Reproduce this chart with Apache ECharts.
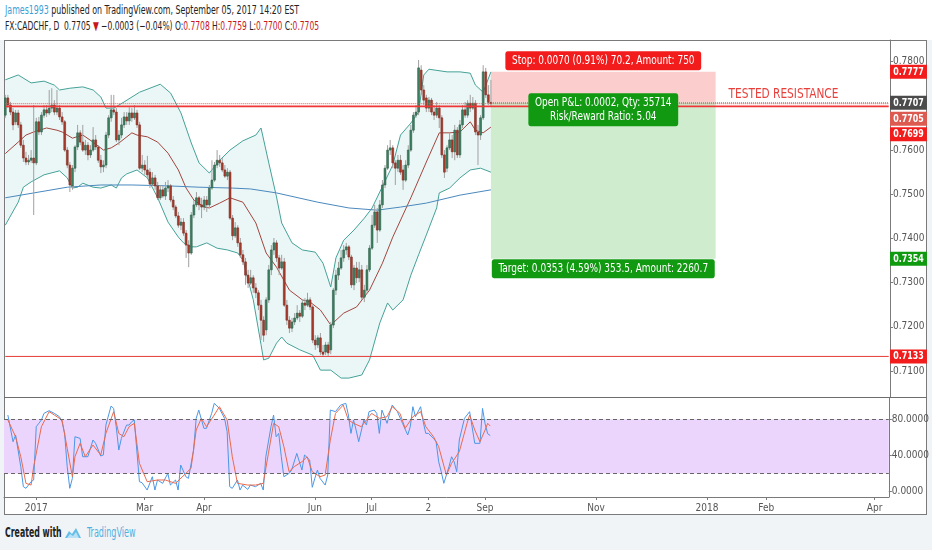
<!DOCTYPE html>
<html>
<head>
<meta charset="utf-8">
<title>FX:CADCHF, D</title>
<script src="https://cdn.jsdelivr.net/npm/echarts@6/dist/echarts.min.js"></script>
<style>
html, body { margin: 0; padding: 0; background: #f1f4f7; }
#wrap { position: relative; width: 932px; height: 550px; overflow: hidden; background: #f1f4f7;
  font-family: 'DejaVu Sans Condensed', 'Liberation Sans', sans-serif; }
#top { position: absolute; left: 0; top: 0; width: 932px; height: 40px; background: #fff; }
#frame { position: absolute; left: 4px; top: 40px; width: 921px; height: 473px; border: 1px solid #7a7a7a; background: #fff; }
#sep { position: absolute; left: 4px; top: 397px; width: 923px; height: 1px; background: #6e6e6e; z-index: 5; }
#main { position: absolute; left: 0; top: 0; width: 932px; height: 550px; }
.txt { position: absolute; white-space: nowrap; transform-origin: 0 50%; color: #222; }
.l1 { left: 5px; top: 3px; font-size: 12px; transform: scaleX(0.73); }
.l2 { left: 5px; top: 19px; font-size: 12px; transform: scaleX(0.70); }
.red { color: #c8171b; }
.blue { color: #3aa0d8; }
.f1 { left: 5px; top: 524px; font-size: 14px; font-weight: bold; transform: scaleX(0.62); }
.f2 { left: 87px; top: 524px; font-size: 14px; color: #4fb0e2; transform: scaleX(0.64); }
#logo { position: absolute; left: 64px; top: 527px; }
</style>
</head>
<body>
<div id="wrap">
  <div id="top"></div>
  <div id="frame"></div>
  <div class="txt l1"><span class="blue">James1993</span> published on TradingView.com, September 05, 2017 14:20 EST</div>
  <div class="txt l2">FX:CADCHF, D&nbsp; 0.7705 <span class="red">&#9660;</span> &minus;0.0003 (&minus;0.04%) O:<span class="red">0.7708</span> H:<span class="red">0.7759</span> L:<span class="red">0.7700</span> C:<span class="red">0.7705</span></div>
  <div class="txt f1">Created with</div>
  <svg id="logo" width="18" height="12" viewBox="0 0 18 12"><path d="M1 11 L5 4 L8 7 L12 1 L17 11 Z" fill="#62bde8"/><path d="M3 11 L6 7 L9 9 L12 5 L15 11 Z" fill="#ffffff" opacity="0.55"/></svg>
  <div class="txt f2">TradingView</div>
  <div id="main"></div>
  <div id="sep"></div>
</div>
<script>
// daily candles, 15 Dec 2016 .. 5 Sep 2017
var opens = [
  0.7679,0.7718,0.7702,0.7686,0.7664,0.7684,0.7657,0.7611,0.7582,0.7573,
  0.7577,0.7582,0.7571,0.7664,0.7641,0.7679,0.7691,0.7684,0.7695,0.7702,
  0.7686,0.7695,0.7675,0.7664,0.7600,0.7566,0.7519,0.7559,0.7607,0.7639,
  0.7618,0.7600,0.7611,0.7589,0.7600,0.7623,0.7607,0.7577,0.7562,0.7566,
  0.7634,0.7673,0.7691,0.7686,0.7623,0.7634,0.7657,0.7675,0.7666,0.7684,
  0.7673,0.7684,0.7657,0.7559,0.7566,0.7555,0.7550,0.7523,0.7537,0.7519,
  0.7492,0.7510,0.7496,0.7514,0.7519,0.7487,0.7471,0.7451,0.7430,0.7437,
  0.7412,0.7385,0.7367,0.7453,0.7476,0.7492,0.7476,0.7471,0.7487,0.7476,
  0.7514,0.7532,0.7566,0.7577,0.7571,0.7555,0.7541,0.7550,0.7446,0.7406,
  0.7424,0.7390,0.7363,0.7347,0.7317,0.7299,0.7311,0.7288,0.7277,0.7249,
  0.7215,0.7193,0.7261,0.7329,0.7374,0.7390,0.7356,0.7333,0.7347,0.7249,
  0.7215,0.7197,0.7211,0.7220,0.7231,0.7224,0.7254,0.7249,0.7261,0.7245,
  0.7170,0.7159,0.7175,0.7143,0.7143,0.7159,0.7148,0.7204,0.7283,0.7317,
  0.7333,0.7356,0.7374,0.7381,0.7358,0.7295,0.7333,0.7311,0.7329,0.7267,
  0.7283,0.7329,0.7378,0.7430,0.7460,0.7419,0.7476,0.7521,0.7559,0.7600,
  0.7605,0.7571,0.7559,0.7577,0.7555,0.7532,0.7566,0.7600,0.7645,0.7679,
  0.7686,0.7781,0.7736,0.7718,0.7695,0.7713,0.7686,0.7679,0.7695,0.7673,
  0.7589,0.7559,0.7605,0.7623,0.7596,0.7645,0.7589,0.7657,0.7691,0.7679,
  0.7706,0.7695,0.7706,0.7641,0.7634,0.7673,0.7777,0.7725,0.7708
];
var highs = [
  0.7725,0.7725,0.7709,0.7695,0.7691,0.7691,0.7664,0.7623,0.7596,0.7589,
  0.7600,0.7702,0.7673,0.7675,0.7686,0.7702,0.7702,0.7736,0.7740,0.7713,
  0.7736,0.7702,0.7686,0.7668,0.7607,0.7573,0.7566,0.7611,0.7657,0.7645,
  0.7657,0.7623,0.7618,0.7611,0.7652,0.7634,0.7611,0.7589,0.7577,0.7641,
  0.7679,0.7725,0.7725,0.7695,0.7645,0.7673,0.7686,0.7686,0.7697,0.7695,
  0.7702,0.7691,0.7664,0.7589,0.7577,0.7587,0.7559,0.7550,0.7544,0.7528,
  0.7521,0.7519,0.7528,0.7532,0.7523,0.7496,0.7476,0.7460,0.7446,0.7446,
  0.7419,0.7396,0.7460,0.7487,0.7505,0.7496,0.7492,0.7496,0.7496,0.7521,
  0.7577,0.7573,0.7600,0.7589,0.7582,0.7566,0.7559,0.7555,0.7453,0.7437,
  0.7430,0.7401,0.7374,0.7356,0.7329,0.7329,0.7317,0.7299,0.7283,0.7261,
  0.7224,0.7267,0.7340,0.7385,0.7401,0.7396,0.7363,0.7363,0.7356,0.7261,
  0.7224,0.7220,0.7231,0.7249,0.7238,0.7261,0.7265,0.7277,0.7267,0.7249,
  0.7181,0.7181,0.7186,0.7159,0.7166,0.7166,0.7211,0.7288,0.7329,0.7347,
  0.7374,0.7385,0.7390,0.7385,0.7363,0.7340,0.7347,0.7347,0.7340,0.7295,
  0.7340,0.7385,0.7453,0.7476,0.7469,0.7487,0.7532,0.7566,0.7611,0.7623,
  0.7611,0.7577,0.7589,0.7589,0.7566,0.7577,0.7611,0.7657,0.7686,0.7702,
  0.7804,0.7792,0.7747,0.7725,0.7720,0.7718,0.7702,0.7709,0.7702,0.7679,
  0.7600,0.7611,0.7641,0.7634,0.7657,0.7652,0.7668,0.7702,0.7709,0.7713,
  0.7725,0.7720,0.7713,0.7657,0.7679,0.7792,0.7786,0.7747,0.7759
];
var lows = [
  0.7673,0.7695,0.7679,0.7645,0.7657,0.7650,0.7605,0.7573,0.7566,0.7566,
  0.7571,0.7453,0.7566,0.7634,0.7634,0.7673,0.7675,0.7679,0.7686,0.7679,
  0.7679,0.7668,0.7657,0.7596,0.7559,0.7505,0.7510,0.7550,0.7600,0.7611,
  0.7596,0.7589,0.7577,0.7582,0.7596,0.7600,0.7571,0.7548,0.7550,0.7559,
  0.7627,0.7664,0.7679,0.7618,0.7611,0.7627,0.7650,0.7657,0.7657,0.7664,
  0.7668,0.7650,0.7555,0.7550,0.7544,0.7537,0.7514,0.7519,0.7510,0.7487,
  0.7487,0.7492,0.7487,0.7505,0.7482,0.7464,0.7446,0.7424,0.7419,0.7406,
  0.7356,0.7335,0.7363,0.7446,0.7471,0.7464,0.7446,0.7464,0.7460,0.7471,
  0.7510,0.7528,0.7559,0.7562,0.7550,0.7537,0.7532,0.7442,0.7396,0.7401,
  0.7381,0.7356,0.7340,0.7295,0.7288,0.7295,0.7277,0.7265,0.7238,0.7170,
  0.7166,0.7181,0.7254,0.7317,0.7363,0.7347,0.7317,0.7329,0.7245,0.7204,
  0.7186,0.7188,0.7204,0.7215,0.7211,0.7220,0.7238,0.7245,0.7238,0.7163,
  0.7148,0.7152,0.7136,0.7132,0.7136,0.7134,0.7138,0.7197,0.7272,0.7306,
  0.7329,0.7347,0.7363,0.7351,0.7288,0.7283,0.7299,0.7301,0.7261,0.7256,
  0.7277,0.7324,0.7374,0.7424,0.7390,0.7415,0.7469,0.7514,0.7555,0.7589,
  0.7559,0.7521,0.7550,0.7544,0.7510,0.7528,0.7559,0.7596,0.7639,0.7673,
  0.7679,0.7725,0.7702,0.7686,0.7686,0.7679,0.7668,0.7673,0.7650,0.7582,
  0.7537,0.7550,0.7600,0.7582,0.7577,0.7582,0.7582,0.7650,0.7673,0.7673,
  0.7686,0.7691,0.7634,0.7566,0.7623,0.7668,0.7718,0.7702,0.7700
];
var closes = [
  0.7718,0.7702,0.7686,0.7657,0.7684,0.7657,0.7611,0.7582,0.7573,0.7577,
  0.7582,0.7571,0.7664,0.7641,0.7679,0.7691,0.7684,0.7695,0.7702,0.7686,
  0.7695,0.7675,0.7664,0.7600,0.7566,0.7521,0.7559,0.7607,0.7639,0.7618,
  0.7600,0.7611,0.7589,0.7600,0.7623,0.7607,0.7577,0.7562,0.7566,0.7634,
  0.7673,0.7691,0.7686,0.7623,0.7634,0.7657,0.7675,0.7666,0.7684,0.7673,
  0.7684,0.7657,0.7559,0.7566,0.7555,0.7544,0.7523,0.7537,0.7519,0.7492,
  0.7510,0.7496,0.7514,0.7519,0.7487,0.7471,0.7451,0.7430,0.7437,0.7412,
  0.7385,0.7367,0.7453,0.7476,0.7492,0.7476,0.7471,0.7487,0.7476,0.7514,
  0.7532,0.7566,0.7577,0.7571,0.7555,0.7541,0.7550,0.7446,0.7406,0.7424,
  0.7390,0.7363,0.7347,0.7317,0.7299,0.7311,0.7288,0.7277,0.7249,0.7215,
  0.7181,0.7261,0.7329,0.7374,0.7390,0.7356,0.7333,0.7347,0.7249,0.7215,
  0.7197,0.7211,0.7220,0.7231,0.7224,0.7254,0.7249,0.7261,0.7245,0.7170,
  0.7159,0.7175,0.7143,0.7138,0.7159,0.7141,0.7204,0.7283,0.7317,0.7333,
  0.7356,0.7374,0.7381,0.7358,0.7295,0.7333,0.7311,0.7329,0.7267,0.7283,
  0.7329,0.7378,0.7430,0.7460,0.7419,0.7476,0.7521,0.7559,0.7600,0.7605,
  0.7571,0.7559,0.7577,0.7550,0.7532,0.7566,0.7600,0.7645,0.7679,0.7686,
  0.7786,0.7736,0.7713,0.7695,0.7713,0.7686,0.7679,0.7695,0.7673,0.7589,
  0.7550,0.7605,0.7623,0.7596,0.7645,0.7589,0.7657,0.7691,0.7679,0.7706,
  0.7695,0.7706,0.7641,0.7634,0.7673,0.7777,0.7725,0.7708,0.7705
];

// Bollinger bands (20, 2) and the long moving average, read at bar indices
var bbUpIdx = [0,5,10,15,19,21,25,30,34,37,39,42,46,52,60,64,68,72,75,79,83,87,92,97,99,102,105,107,111,115,120,123,126,128,131,135,139,142,150,153,157,160,162,164,171,176,180,182,185,188];
var bbUp = [0.7759,0.7770,0.7752,0.7756,0.7747,0.7736,0.7740,0.7743,0.7736,0.7720,0.7695,0.7695,0.7709,0.7731,0.7749,0.7729,0.7684,0.7616,0.7571,0.7548,0.7577,0.7600,0.7621,0.7634,0.7650,0.7571,0.7494,0.7435,0.7390,0.7374,0.7369,0.7344,0.7290,0.7356,0.7396,0.7419,0.7446,0.7469,0.7566,0.7634,0.7661,0.7686,0.7770,0.7783,0.7777,0.7777,0.7774,0.7747,0.7731,0.7777];
var bbLoIdx = [0,5,7,10,15,21,24,26,28,30,34,37,41,43,45,47,51,55,59,63,67,69,72,74,78,82,86,90,92,96,99,100,102,105,107,109,114,119,122,126,130,133,138,141,145,148,150,154,157,160,163,167,168,172,176,180,184,188];
var bbLo = [0.7430,0.7482,0.7516,0.7528,0.7544,0.7553,0.7537,0.7514,0.7516,0.7525,0.7516,0.7514,0.7521,0.7514,0.7537,0.7546,0.7555,0.7537,0.7492,0.7437,0.7403,0.7390,0.7381,0.7381,0.7390,0.7378,0.7374,0.7367,0.7351,0.7261,0.7160,0.7125,0.7129,0.7163,0.7177,0.7163,0.7148,0.7136,0.7102,0.7102,0.7084,0.7084,0.7091,0.7125,0.7209,0.7254,0.7238,0.7261,0.7317,0.7363,0.7408,0.7469,0.7503,0.7514,0.7537,0.7555,0.7559,0.7550];
var bbMidIdx = [0,5,8,11,16,20,22,26,30,34,38,41,44,49,51,55,59,63,67,70,73,77,79,83,87,92,97,101,105,110,115,118,122,126,131,136,141,146,150,157,163,168,172,176,180,182,185,188];
var bbMid = [0.7592,0.7618,0.7634,0.7641,0.7650,0.7645,0.7641,0.7627,0.7634,0.7618,0.7600,0.7605,0.7616,0.7639,0.7634,0.7630,0.7618,0.7593,0.7555,0.7514,0.7487,0.7471,0.7469,0.7480,0.7492,0.7482,0.7435,0.7367,0.7335,0.7283,0.7261,0.7256,0.7238,0.7204,0.7231,0.7245,0.7283,0.7344,0.7403,0.7492,0.7573,0.7639,0.7639,0.7641,0.7664,0.7645,0.7639,0.7652];
var maIdx = [0,11,24,37,49,63,75,88,95,105,121,133,144,153,163,176,188];
var maLong = [0.7492,0.7503,0.7516,0.7521,0.7521,0.7519,0.7516,0.7514,0.7512,0.7503,0.7482,0.7469,0.7464,0.7471,0.7480,0.7498,0.7510];

// stochastic %K / %D
var kIdx = [1,3,4,6,7,8,10,11,12,13,14,15,17,19,21,22,23,24,25,26,27,29,30,32,34,35,37,38,39,41,42,43,44,45,47,48,49,50,52,53,55,57,58,59,61,63,64,66,67,68,70,71,73,74,75,77,78,80,81,83,85,86,87,88,90,91,92,94,95,97,99,100,101,103,104,105,106,107,108,110,111,113,115,116,118,119,120,121,122,124,125,126,128,130,132,133,134,135,136,137,139,140,141,143,144,145,146,148,149,150,152,154,156,157,158,159,161,162,163,164,166,167,168,169,170,172,173,174,175,176,178,180,182,184,185,186,187,188];
var kVal = [84.7,55.2,62.6,27.6,5.5,3.7,11,12.9,71.8,75.5,79.2,86.5,89.5,86.5,82.8,77.3,64.4,27.6,3.7,14.7,60.7,58.9,38.6,38.6,57.1,53.4,39.4,40.5,73.6,94.6,92,71.8,46,58.9,73.6,73.6,77.3,79.2,11,9.9,1.8,16.5,1.8,12.9,9.2,20.2,7.3,12.9,1.8,29.4,16.5,14.7,46,81,90.2,70,70,86.5,97.6,92,81,66.3,5.5,3.7,12.9,1.8,7.3,2.5,7.3,5.5,9.2,1.8,38.6,71.8,84.7,60.7,64.4,38.6,16.5,20.2,23.9,42.3,23.9,40.5,35,4.8,14.7,23.9,14.7,7.3,18.4,90.2,88.4,95.7,97.6,84.7,64.4,79.2,68.1,55.2,79.2,73.6,88.4,90.2,86.5,64.4,90.2,75.5,86.5,95.7,88.4,75.5,62.6,71.8,93.9,82.8,93.9,77.3,64.4,64.4,58.9,55.2,33.1,22.1,9.2,27.6,38.6,33.1,22.1,57.1,81,88.4,53.4,53.4,92,75,64,62];
var dIdx = [1,4,6,8,10,11,13,14,17,19,22,24,26,27,29,31,34,37,39,42,44,46,48,50,52,55,59,62,66,70,72,74,76,78,81,83,86,88,90,94,97,100,102,104,106,108,110,112,115,117,119,122,124,126,128,131,133,135,138,140,142,145,148,150,153,155,158,161,163,166,168,171,173,176,179,180,182,184,186,187,188];
var dVal = [79.2,60.7,38.6,9.2,7.3,27.6,57.1,71.8,88.4,84.7,79.2,47.9,16.5,38.6,53.4,38.6,51.5,40.5,64.4,88.4,64.4,60.7,71.8,75.5,31.3,11,12.9,12.9,9.2,20.2,25.8,68.1,81,71.8,84.7,93.9,79.2,38.6,9.2,7.3,7.3,9.2,42.3,75.5,71.8,49.7,22.1,27.6,33.1,38.6,22.1,16.5,18.4,57.1,86.5,95.7,79.2,75.5,71.8,79.2,86.5,81,82.8,93.9,86.5,70,82.8,88.4,71.8,60.7,49.7,18.4,31.3,44.2,75.5,84.7,68.1,55.2,68.1,75.5,72.5];

// levels of the short position and the drawn lines
var entryPrice = 0.7707, stopPrice = 0.7777, targetPrice = 0.7354;
var lastPrice = 0.7705, resistance = 0.7699, support = 0.7133;
var boxStart = 188, boxEnd = 275;

var priceTicks = [0.71, 0.72, 0.73, 0.74, 0.75, 0.76, 0.78];
var stochTicks = [0, 40, 80];
var timeLabels = {
  '2017-01-02': '2017', '2017-03-01': 'Mar', '2017-04-03': 'Apr', '2017-06-01': 'Jun',
  '2017-07-03': 'Jul', '2017-08-02': '2', '2017-09-01': 'Sep', '2017-11-01': 'Nov',
  '2018-01-01': '2018', '2018-02-01': 'Feb', '2018-04-02': 'Apr'
};

// trading days on the time scale, including the empty future part
var dates = [];
var d = new Date(Date.UTC(2016, 11, 15));
while (dates.length < 343) {
  var wd = d.getUTCDay();
  if (wd !== 0 && wd !== 6) dates.push(d.toISOString().slice(0, 10));
  d.setUTCDate(d.getUTCDate() + 1);
}
var lastIdx = dates.length - 1;

var FONT = "'DejaVu Sans Condensed', 'Liberation Sans', sans-serif";
function pairs(idx, vals) { return idx.map(function (i, k) { return [i, vals[k]]; }); }
function level(v, from) { return [[from || 0, v], [lastIdx, v]]; }

var candles = opens.map(function (o, i) { return [i, o, highs[i], lows[i], closes[i]]; });

function renderCandle(params, api) {
  var i = api.value(0), o = api.value(1), h = api.value(2), l = api.value(3), c = api.value(4);
  var pO = api.coord([i, o]), pC = api.coord([i, c]);
  var pH = api.coord([i, h]), pL = api.coord([i, l]);
  var w = api.size([1, 0])[0] * 0.72;
  var up = c >= o;
  var top = Math.min(pO[1], pC[1]), bot = Math.max(pO[1], pC[1]);
  return {
    type: 'group',
    children: [
      { type: 'line', shape: { x1: pH[0], y1: pH[1], x2: pL[0], y2: pL[1] }, style: { stroke: '#a0a0a0', lineWidth: 1 } },
      { type: 'rect', shape: { x: pO[0] - w / 2, y: top, width: w, height: Math.max(bot - top, 1) },
        style: { fill: up ? '#3e8060' : '#a83b2c', stroke: up ? '#2c6049' : '#7f2b21', lineWidth: 0.6 } }
    ]
  };
}

function renderBand(params, api) {
  var pts = [];
  bbUpIdx.forEach(function (i, k) { pts.push(api.coord([i, bbUp[k]])); });
  for (var k = bbLoIdx.length - 1; k >= 0; k--) pts.push(api.coord([bbLoIdx[k], bbLo[k]]));
  return { type: 'polygon', shape: { points: pts }, style: { fill: 'rgba(38,166,154,0.09)' } };
}

function flatLine(name, data, color, width, type, z) {
  return { name: name, type: 'line', xAxisIndex: 0, yAxisIndex: 0, data: data, showSymbol: false, silent: true,
    lineStyle: { color: color, width: width, type: type }, z: z };
}

var chart = echarts.init(document.getElementById('main'));

var option = {
  animation: false,
  grid: [
    { left: 4, top: 40, width: 886, height: 357 },
    { left: 4, top: 398, width: 886, height: 99 }
  ],
  xAxis: [
    { type: 'category', gridIndex: 0, data: dates, boundaryGap: true, show: false },
    { type: 'category', gridIndex: 1, data: dates, boundaryGap: true,
      axisLine: { show: true, onZero: false, lineStyle: { color: '#7a7a7a' } },
      splitLine: { show: false },
      axisTick: { show: true, length: 3, alignWithLabel: true, lineStyle: { color: '#7a7a7a' },
        interval: function (i, v) { return !!timeLabels[v]; } },
      axisLabel: { color: '#555', fontSize: 10, fontFamily: FONT, margin: 6,
        interval: function (i, v) { return !!timeLabels[v]; },
        formatter: function (v) { return timeLabels[v] || ''; } } }
  ],
  yAxis: [
    { type: 'value', gridIndex: 0, position: 'right', min: 0.70412, max: 0.78491,
      splitLine: { show: false },
      axisLine: { show: true, lineStyle: { color: '#7a7a7a' } },
      axisTick: { show: true, length: 3, customValues: priceTicks, lineStyle: { color: '#7a7a7a' } },
      axisLabel: { customValues: priceTicks, color: '#555', fontSize: 10, fontFamily: FONT, margin: 3,
        formatter: function (v) { return v.toFixed(4); } } },
    { type: 'value', gridIndex: 1, position: 'right', min: -5.9, max: 103.5,
      splitLine: { show: false },
      axisLine: { show: true, lineStyle: { color: '#7a7a7a' } },
      axisTick: { show: true, length: 3, customValues: stochTicks, lineStyle: { color: '#7a7a7a' } },
      axisLabel: { customValues: stochTicks, color: '#555', fontSize: 10, fontFamily: FONT, margin: 3,
        formatter: function (v) { return v.toFixed(4); } } }
  ],
  series: [
    { name: 'BB fill', type: 'custom', xAxisIndex: 0, yAxisIndex: 0, data: [[0, bbUp[0]]],
      renderItem: renderBand, clip: true, silent: true, z: 1 },
    { name: 'Position', type: 'line', xAxisIndex: 0, yAxisIndex: 0, data: [], z: 1,
      markArea: { silent: true, data: [
        [{ coord: [boxStart, stopPrice], itemStyle: { color: '#fbcdcd' } }, { coord: [boxEnd, entryPrice] }],
        [{ coord: [boxStart, entryPrice], itemStyle: { color: '#cfeccf' } }, { coord: [boxEnd, targetPrice] }]
      ] } },
    flatLine('BB upper', pairs(bbUpIdx, bbUp), '#44a198', 1, 'solid', 2),
    flatLine('BB lower', pairs(bbLoIdx, bbLo), '#44a198', 1, 'solid', 2),
    flatLine('BB basis', pairs(bbMidIdx, bbMid), '#a3443e', 1, 'solid', 2),
    flatLine('MA', pairs(maIdx, maLong), '#4a88bd', 1, 'solid', 2),
    { name: 'CADCHF', type: 'custom', xAxisIndex: 0, yAxisIndex: 0, data: candles,
      encode: { x: 0, y: [1, 2, 3, 4] }, renderItem: renderCandle, clip: true, z: 3 },
    flatLine('Support', level(support), '#e53935', 1, 'solid', 4),
    flatLine('Resistance', level(resistance), '#ef3535', 1.6, 'solid', 4),
    flatLine('Last', level(lastPrice), '#e0574f', 1, [1, 1], 4),
    flatLine('Entry', level(entryPrice, boxStart), '#777777', 1, [1, 1], 4),
    { name: '%K', type: 'line', xAxisIndex: 1, yAxisIndex: 1, data: pairs(kIdx, kVal),
      showSymbol: false, lineStyle: { color: '#4b97e6', width: 1 }, z: 3,
      markArea: { silent: true, itemStyle: { color: '#ebd5fd' }, data: [[{ yAxis: 20 }, { yAxis: 80 }]] },
      markLine: { silent: true, symbol: 'none', label: { show: false },
        lineStyle: { color: '#666', width: 1, type: [4, 3] }, data: [{ yAxis: 20 }, { yAxis: 80 }] } },
    { name: '%D', type: 'line', xAxisIndex: 1, yAxisIndex: 1, data: pairs(dIdx, dVal),
      showSymbol: false, lineStyle: { color: '#ec6a4c', width: 1 }, z: 3 }
  ]
};
chart.setOption(option);

// price tags on the axis and the labels of the position tool
function px(i, v) { return chart.convertToPixel({ xAxisIndex: 0, yAxisIndex: 0 }, [dates[i], v]); }
function py(v) { return chart.convertToPixel({ yAxisIndex: 0 }, v); }

function axisTag(v, bg, shift) {
  return { type: 'text', x: 890, y: py(v) + (shift || 0), z: 50, scaleX: 0.8,
    style: { text: v.toFixed(4), fill: '#fff', font: 'bold 11px ' + FONT, align: 'left', verticalAlign: 'middle',
      backgroundColor: bg, padding: [2, 4, 1, 4] } };
}
function boxLabel(cx, cy, txt, bg) {
  return { type: 'text', x: cx, y: cy, z: 50, scaleX: 0.83,
    style: { text: txt, fill: '#fff', font: '12px ' + FONT, align: 'center', verticalAlign: 'middle',
      lineHeight: 14, backgroundColor: bg, padding: [3, 8, 2, 8], borderRadius: 3 } };
}

var cx = (px(boxStart, entryPrice)[0] + px(boxEnd, entryPrice)[0]) / 2;
chart.setOption({
  graphic: [
    axisTag(stopPrice, '#f21c1c'),
    axisTag(entryPrice, '#4b4b4b'),
    axisTag(lastPrice, '#dc5a50', 15),
    axisTag(resistance, '#f21c1c', 28),
    axisTag(targetPrice, '#109a10'),
    axisTag(support, '#f21c1c'),
    boxLabel(cx, py(stopPrice) - 11, 'Stop: 0.0070 (0.91%) 70.2, Amount: 750', '#f21c1c'),
    boxLabel(cx, py(entryPrice) + 7, 'Open P&L: 0.0002, Qty: 35714\nRisk/Reward Ratio: 5.04', '#119a11'),
    boxLabel(cx, py(targetPrice) + 10, 'Target: 0.0353 (4.59%) 353.5, Amount: 2260.7', '#119a11'),
    { type: 'text', x: px(280, 0.7725)[0], y: py(0.7725), z: 50, scaleX: 0.84,
      style: { text: 'TESTED RESISTANCE', fill: '#e8413c', font: '14px ' + FONT, align: 'left', verticalAlign: 'middle' } }
  ]
});
</script>
</body>
</html>
